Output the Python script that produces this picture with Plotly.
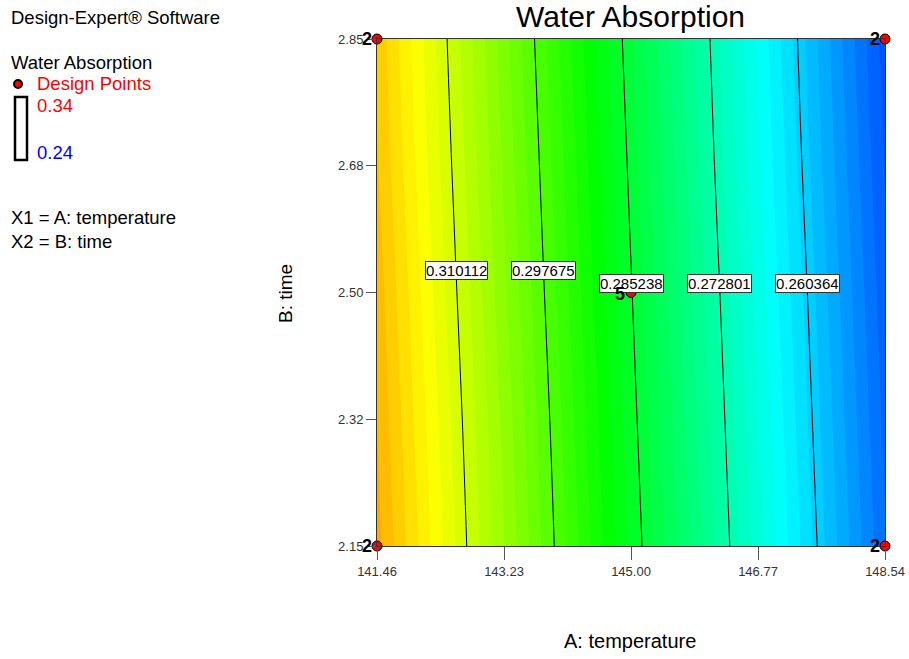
import numpy as np
import plotly.graph_objects as go

# Factor levels (axis ticks) and fitted response on a grid
temperature = [141.46, 143.23, 145.00, 146.77, 148.54]
time = [2.15, 2.325, 2.50, 2.675, 2.85]
time_ticktext = ["2.15", "2.32", "2.50", "2.68", "2.85"]
absorption = [
    [0.3229, 0.3048, 0.2868, 0.2688, 0.2507],  # time 2.15
    [0.3222, 0.3042, 0.2861, 0.2681, 0.2500],  # time 2.325
    [0.3215, 0.3034, 0.2854, 0.2674, 0.2493],  # time 2.50
    [0.3207, 0.3027, 0.2847, 0.2666, 0.2486],  # time 2.675
    [0.3201, 0.3020, 0.2840, 0.2660, 0.2479],  # time 2.85
]
contour_levels = [0.310112, 0.297675, 0.285238, 0.272801, 0.260364]
label_times = [2.530, 2.530, 2.512, 2.512, 2.512]

# Design points (corners run twice, centre point five times)
design_temp = [141.46, 141.46, 148.54, 148.54, 145.00]
design_time = [2.15, 2.85, 2.15, 2.85, 2.50]
design_reps = ["2", "2", "2", "2", "5"]

z_low, z_high = 0.24, 0.34
spectrum = [
    [0.0, "#0000FF"],
    [0.25, "#00FFFF"],
    [0.5, "#00FF00"],
    [0.75, "#FFFF00"],
    [1.0, "#FF0000"],
]

FONT = "Liberation Sans, Arial, sans-serif"
L, T = 377, 39  # plot-area top-left corner in pixels

fig = go.Figure()

# Stepped colour fill
fig.add_trace(go.Contour(
    x=temperature, y=time, z=absorption,
    colorscale=spectrum, zmin=z_low, zmax=z_high,
    autocontour=False,
    contours=dict(start=z_low, end=z_high, size=0.00175, coloring="fill"),
    line=dict(width=0),
    showscale=False, hoverinfo="skip",
))

# Contour lines at the labelled levels
step = contour_levels[0] - contour_levels[1]
fig.add_trace(go.Contour(
    x=temperature, y=time, z=absorption,
    autocontour=False,
    contours=dict(start=min(contour_levels), end=max(contour_levels) + 1e-9,
                  size=step, coloring="lines", showlabels=False),
    colorscale=[[0, "black"], [1, "black"]],
    line=dict(width=1), showscale=False, hoverinfo="skip",
))

# Design points
fig.add_trace(go.Scatter(
    x=design_temp, y=design_time, mode="markers",
    marker=dict(size=10, color="#FF0000", line=dict(color="black", width=1)),
    cliponaxis=False, hoverinfo="skip", showlegend=False,
))

z = np.array(absorption)
t_arr = np.array(time)
annotations = []
for lvl, tt in zip(contour_levels, label_times):
    # response along the label's time, then where it crosses the level
    row = np.array([np.interp(tt, t_arr, z[:, j]) for j in range(len(temperature))])
    xpos = float(np.interp(lvl, row[::-1], np.array(temperature)[::-1]))
    annotations.append(dict(
        x=xpos, y=tt, xref="x", yref="y", text=f"{lvl:.6f}", showarrow=False,
        font=dict(family=FONT, size=15, color="black"),
        bgcolor="white", bordercolor="#333333", borderwidth=1, borderpad=0,
    ))

for xt, yt, rep in zip(design_temp, design_time, design_reps):
    annotations.append(dict(
        x=xt, y=yt, xref="x", yref="y", text=f"<b>{rep}</b>", showarrow=False,
        xanchor="right", yanchor="middle", xshift=-3 if rep == "2" else -4,
        yshift=0 if rep == "2" else -1,
        font=dict(family=FONT, size=18, color="black"),
    ))


def pixel_text(px, py, txt, col, size, anchor="left", angle=0):
    return dict(x=0, y=1, xref="paper", yref="paper", xshift=px - L, yshift=T - py,
                text=txt, showarrow=False, xanchor=anchor, yanchor="middle",
                textangle=angle, font=dict(family=FONT, size=size, color=col))


# Side panel text
side = [
    (9, 17, "Design-Expert® Software", "black"),
    (9, 62, "Water Absorption", "black"),
    (35, 83, "Design Points", "#FF0000"),
    (35, 105, "0.34", "#FF0000"),
    (35, 152, "0.24", "#0000FF"),
    (9, 217, "X1 = A: temperature", "black"),
    (9, 241, "X2 = B: time", "black"),
]
for px, py, txt, col in side:
    annotations.append(pixel_text(px, py, txt, col, 18.5))

# Title and axis titles
annotations.append(pixel_text(630, 16, "Water Absorption", "black", 30, "center"))
annotations.append(pixel_text(630, 641, "A: temperature", "black", 20, "center"))
annotations.append(pixel_text(285, 294, "B: time", "black", 19, "center", -90))

shapes = [
    # legend dot and colour bar outline
    dict(type="circle", xref="paper", yref="paper",
         xsizemode="pixel", ysizemode="pixel", xanchor=0, yanchor=1,
         x0=14 - L, x1=22 - L, y0=T - 88, y1=T - 80,
         fillcolor="#FF0000", line=dict(color="black", width=2)),
    dict(type="rect", xref="paper", yref="paper",
         xsizemode="pixel", ysizemode="pixel", xanchor=0, yanchor=1,
         x0=15 - L, x1=27 - L, y0=T - 160, y1=T - 97,
         fillcolor="white", line=dict(color="black", width=2.5)),
]

fig.update_layout(
    width=909, height=659,
    margin=dict(l=L, r=24, t=T, b=113),
    paper_bgcolor="white", plot_bgcolor="white",
    showlegend=False,
    annotations=annotations, shapes=shapes,
    font=dict(family=FONT),
    xaxis=dict(
        range=[temperature[0], temperature[-1]], tickvals=temperature,
        ticktext=[f"{v:.2f}" for v in temperature], automargin=False,
        ticks="outside", ticklen=13, tickcolor="#555555",
        showline=True, linecolor="#333333", mirror=True, showgrid=False,
        zeroline=False, tickfont=dict(family=FONT, size=13, color="#333333"),
    ),
    yaxis=dict(
        range=[time[0], time[-1]], tickvals=time, ticktext=time_ticktext,
        automargin=False,
        ticks="outside", ticklen=10, tickcolor="#555555",
        showline=True, linecolor="#333333", mirror=True, showgrid=False,
        zeroline=False, tickfont=dict(family=FONT, size=13, color="#333333"),
    ),
)

fig.write_html("out.html")
